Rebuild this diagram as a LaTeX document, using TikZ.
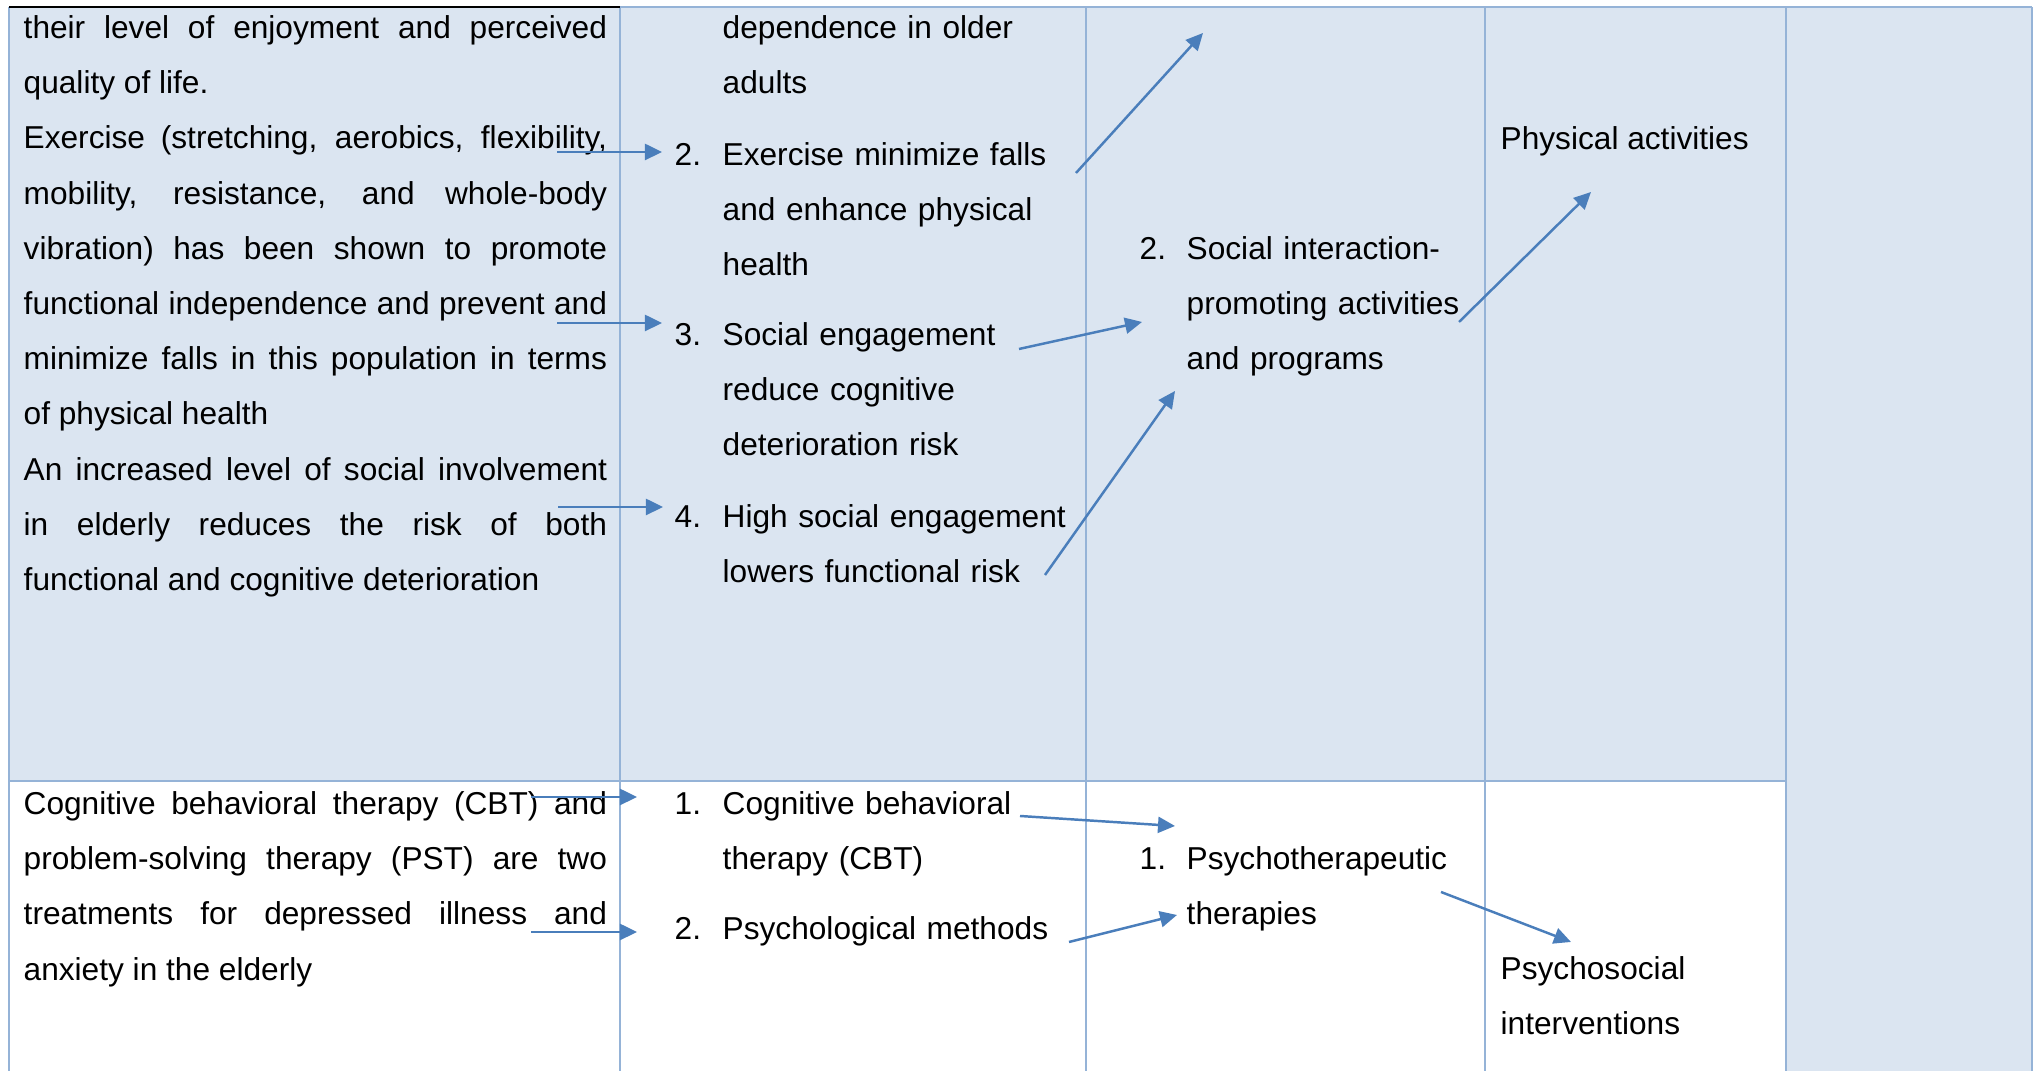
\documentclass[tikz,border=0pt]{standalone}
\usepackage{fontspec}
\setmainfont{Liberation Sans}
\usetikzlibrary{arrows.meta}
\definecolor{cellblue}{HTML}{DBE5F1}
\definecolor{gridblue}{HTML}{95B3D7}
\definecolor{arrowblue}{HTML}{4A7EBB}

\begin{document}
\begin{tikzpicture}[x=0.01cm,y=-0.01cm,
		txt/.style={anchor=base west,inner sep=0pt,yshift=-0.7pt,font=\fontsize{9}{15.7}\selectfont},
		item/.style={txt,text width=3.6cm,align=left},
		para/.style={txt,text width=5.83cm,align=justify},
		link/.style={arrowblue,line width=0.7pt,-{Triangle[length=0.17cm,width=0.16cm]}},
		tabline/.style={gridblue,line width=0.6pt}]
		\useasboundingbox (0,0) rectangle (2035,1071);
		\fill[cellblue] (9,7) rectangle (1786,781);
		\fill[cellblue] (1786,7) rectangle (2032,1071);
		\draw[tabline] (620,7) -- (2032,7);
		\draw[tabline] (9,781) -- (1786,781);
		\foreach \x in {9,620,1086,1485,1786,2032}
			\draw[tabline] (\x,7) -- (\x,1071);
		\draw[line width=0.8pt] (9,7) -- (620,7);

		\node[para] (evid) at (23,36) {\tolerance=10000 their level of enjoyment and perceived\linebreak quality of life.\\
			Exercise (stretching, aerobics, flexibility,\linebreak mobility, resistance, and whole-body\linebreak vibration) has been shown to promote\linebreak functional independence and prevent and\linebreak minimize falls in this population in terms\linebreak of physical health\\
			An increased level of social involvement\linebreak in elderly reduces the risk of both\linebreak functional and cognitive deterioration};
		\node[para] (cbtevid) at (23,812) {\tolerance=10000 Cognitive behavioral therapy (CBT) and\linebreak problem-solving therapy (PST) are two\linebreak treatments for depressed illness and\linebreak anxiety in the elderly};

		\node[item] (dep) at (722,36) {dependence in older\\adults};
		\node[txt] (n2) at (674,163) {2.};
		\node[item] (exer) at (722,163) {Exercise minimize falls\\and enhance physical\\health};
		\node[txt] (n3) at (674,343) {3.};
		\node[item] (soceng) at (722,343) {Social engagement\\reduce cognitive\\deterioration risk};
		\node[txt] (n4) at (674,525) {4.};
		\node[item] (high) at (722,525) {High social engagement\\lowers functional risk};
		\node[txt] (m1) at (674,812) {1.};
		\node[item] (cbt) at (722,812) {Cognitive behavioral\\therapy (CBT)};
		\node[txt] (m2) at (674,937) {2.};
		\node[item] (psymeth) at (722,937) {Psychological methods};

		\node[txt] (k2) at (1139,257) {2.};
		\node[item] (socint) at (1186,257) {Social interaction-\\promoting activities\\and programs};
		\node[txt] (k1) at (1139,867) {1.};
		\node[item] (psyther) at (1186,867) {Psychotherapeutic\\therapies};

		\node[txt] (phys) at (1500,147) {Physical activities};
		\node[item] (psysoc) at (1500,977) {Psychosocial\\interventions};

		\coordinate (a1) at (557,152);
		\coordinate (b1) at (662,152);
		\coordinate (a2) at (557,323);
		\coordinate (b2) at (662,323);
		\coordinate (a3) at (558,507);
		\coordinate (b3) at (663,507);
		\coordinate (a4) at (1076,173);
		\coordinate (b4) at (1203,33);
		\coordinate (a5) at (1019,349);
		\coordinate (b5) at (1142,322);
		\coordinate (a6) at (1045,575);
		\coordinate (b6) at (1175,391);
		\coordinate (a7) at (1459,322);
		\coordinate (b7) at (1591,192);
		\coordinate (a8) at (531,797);
		\coordinate (b8) at (637,797);
		\coordinate (a9) at (531,932);
		\coordinate (b9) at (637,932);
		\coordinate (a10) at (1020,816);
		\coordinate (b10) at (1175,826);
		\coordinate (a11) at (1069,942);
		\coordinate (b11) at (1177,915);
		\coordinate (a12) at (1441,892);
		\coordinate (b12) at (1571,942);
		\foreach \i in {1,...,12}
			\draw[link] (a\i) -- (b\i);
	\end{tikzpicture}
\end{document}
